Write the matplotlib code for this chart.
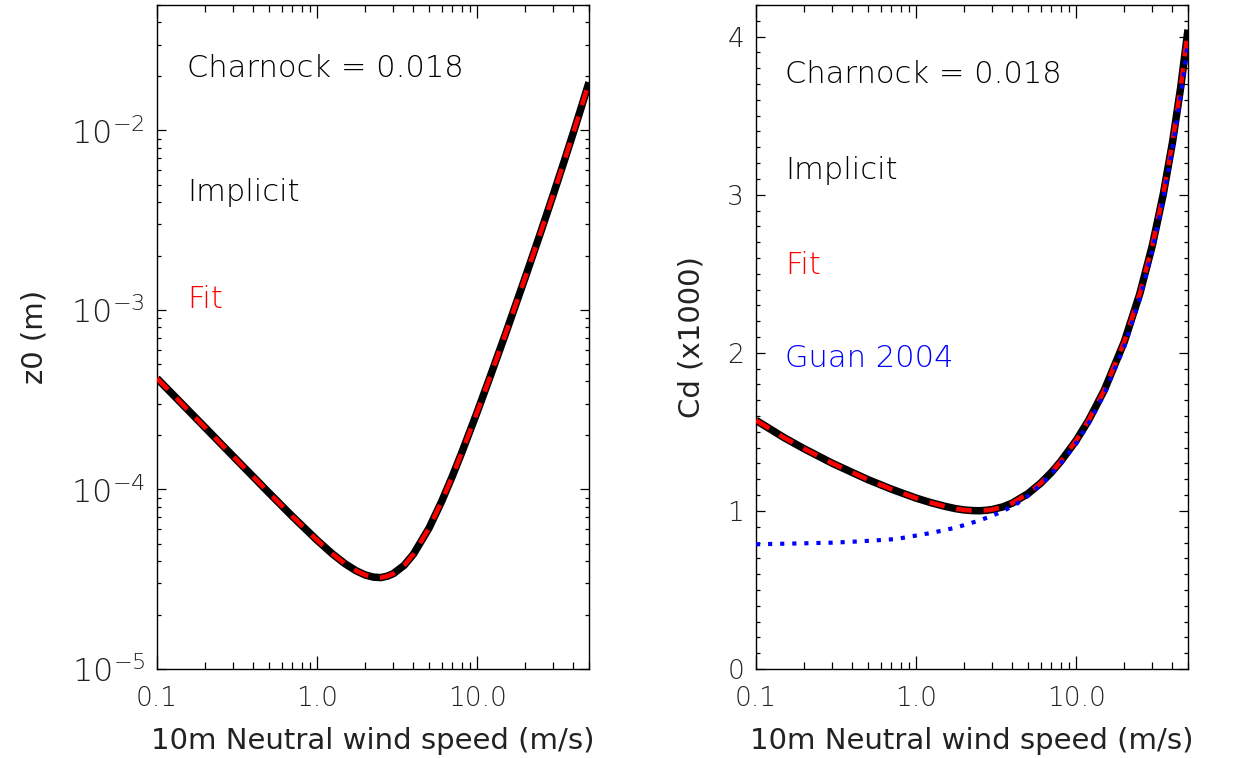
import matplotlib
matplotlib.use("Agg")
import matplotlib.pyplot as plt
from matplotlib.ticker import FixedLocator, FuncFormatter, NullFormatter, MultipleLocator, LogLocator

# ---------------- data ----------------
wind = [0.1, 0.15, 0.2, 0.3, 0.5, 0.7, 1.0, 1.25, 1.5, 1.75, 2.0, 2.25, 2.5, 2.75,
        3.0, 3.5, 4.0, 5.0, 6.0, 7.0, 8.0, 10.0, 12.0, 15.0, 20.0, 25.0, 30.0,
        35.0, 40.0, 45.0, 50.0]
z0_implicit = [4.16e-4, 2.876e-4, 2.212e-4, 1.527e-4, 9.59e-5, 7.09e-5, 5.22e-5,
               4.37e-5, 3.85e-5, 3.53e-5, 3.34e-5, 3.25e-5, 3.23e-5, 3.29e-5,
               3.40e-5, 3.78e-5, 4.36e-5, 6.08e-5, 8.57e-5, 1.185e-4, 1.597e-4,
               2.695e-4, 4.20e-4, 7.31e-4, 1.521e-3, 2.723e-3, 4.431e-3,
               6.746e-3, 9.78e-3, 1.367e-2, 1.855e-2]
z0_fit = [4.16e-4, 2.876e-4, 2.212e-4, 1.527e-4, 9.59e-5, 7.09e-5, 5.22e-5,
          4.37e-5, 3.85e-5, 3.53e-5, 3.34e-5, 3.25e-5, 3.23e-5, 3.29e-5,
          3.40e-5, 3.78e-5, 4.36e-5, 6.08e-5, 8.57e-5, 1.185e-4, 1.597e-4,
          2.695e-4, 4.20e-4, 7.31e-4, 1.521e-3, 2.723e-3, 4.431e-3,
          6.746e-3, 9.78e-3, 1.367e-2, 1.855e-2]
cd_implicit = [1.573, 1.463, 1.393, 1.301, 1.198, 1.138, 1.081, 1.051, 1.030,
               1.015, 1.006, 1.002, 1.001, 1.004, 1.009, 1.026, 1.050, 1.109,
               1.175, 1.243, 1.312, 1.445, 1.575, 1.764, 2.070, 2.374, 2.683,
               3.001, 3.331, 3.679, 4.044]
cd_fit = [1.573, 1.463, 1.393, 1.301, 1.198, 1.138, 1.081, 1.051, 1.030,
          1.015, 1.006, 1.002, 1.001, 1.004, 1.009, 1.026, 1.050, 1.109,
          1.175, 1.243, 1.312, 1.445, 1.575, 1.764, 2.070, 2.374, 2.683,
          3.001, 3.331, 3.679, 4.044]
wind_guan = [0.1, 0.2, 0.3, 0.4, 0.55, 0.75, 0.9, 1.25, 1.75, 2.5, 3.0, 3.5, 4.0,
             4.5, 5.25, 6.5, 8.0, 10.0, 12.0, 15.0, 20.0, 25.0, 30.0, 35.0,
             40.0, 45.0, 50.0]
cd_guan = [0.789, 0.795, 0.799, 0.805, 0.813, 0.822, 0.836, 0.861, 0.893, 0.940,
           0.970, 0.999, 1.030, 1.060, 1.112, 1.200, 1.300, 1.425, 1.555, 1.74,
           2.04, 2.34, 2.65, 2.97, 3.29, 3.62, 3.96]

x_ticks = [0.1, 1.0, 10.0]
x_ticklabels = ["0.1", "1.0", "10.0"]
z0_ticks = [1e-5, 1e-4, 1e-3, 1e-2]
z0_exponents = ["-5", "-4", "-3", "-2"]
cd_ticks = [0, 1, 2, 3, 4]
cd_ticklabels = ["0", "1", "2", "3", "4"]

xlabel = "10m Neutral wind speed (m/s)"
charnock_text = "Charnock = 0.018"

# ---------------- style ----------------
FONT = "DejaVu Sans"
plt.rcParams["font.family"] = [FONT]
plt.rcParams["font.weight"] = "light"
plt.rcParams["mathtext.default"] = "regular"
TXT = "#222222"

fig = plt.figure(figsize=(12.34, 7.58), dpi=100)
ax1 = fig.add_axes([157 / 1234, 89 / 758, 432 / 1234, 664 / 758])
ax2 = fig.add_axes([756 / 1234, 89 / 758, 432 / 1234, 664 / 758])

blk = dict(color="black", lw=5.4, solid_capstyle="butt", zorder=3)
red = dict(color="red", lw=3.3, dash_capstyle="butt", zorder=4)

# left: z0
ax1.plot(wind, z0_implicit, **blk)
l, = ax1.plot(wind, z0_fit, **red)
l.set_dashes([3.4, 2.6])
ax1.set_xscale("log")
ax1.set_yscale("log")
ax1.set_xlim(0.1, 50)
ax1.set_ylim(1e-5, 5e-2)

# right: Cd
ax2.plot(wind, cd_implicit, **blk)
l2, = ax2.plot(wind, cd_fit, **red)
l2.set_dashes([3.4, 2.6])
ax2.plot(wind_guan, cd_guan, color="blue", lw=3.0, linestyle=(0, (1.0, 1.9)),
         dash_capstyle="butt", zorder=5)
ax2.set_xscale("log")
ax2.set_xlim(0.1, 50)
ax2.set_ylim(0, 4.2)

xminor = [v * m for v in (0.1, 1.0, 10.0) for m in range(2, 10) if v * m <= 50]
for ax in (ax1, ax2):
    ax.xaxis.set_major_locator(FixedLocator(x_ticks))
    ax.xaxis.set_major_formatter(FuncFormatter(lambda v, p: x_ticklabels[x_ticks.index(v)] if v in x_ticks else ""))
    ax.xaxis.set_minor_locator(FixedLocator(xminor))
    ax.xaxis.set_minor_formatter(NullFormatter())
    ax.tick_params(axis="x", which="major", direction="in", length=9.4, width=0.9,
                   top=True, bottom=True, pad=12, labelsize=19, labelcolor=TXT)
    ax.tick_params(axis="x", which="minor", direction="in", length=4.7, width=0.9,
                   top=True, bottom=True)
    ax.tick_params(axis="y", which="major", direction="in", length=6.2, width=0.9,
                   left=True, right=True, pad=8.6, labelsize=19, labelcolor=TXT)
    ax.tick_params(axis="y", which="minor", direction="in", length=3.1, width=0.9,
                   left=True, right=True)
    for s in ax.spines.values():
        s.set_linewidth(1.0)
    ax.set_xlabel(xlabel, fontsize=21, color=TXT)
    ax.xaxis.set_label_coords(0.5, -0.088)
    ax.xaxis.label.set_va("top")

ax1.yaxis.set_major_locator(FixedLocator(z0_ticks))
ax1.yaxis.set_major_formatter(FuncFormatter(
    lambda v, p: r"$10^{%s}$" % z0_exponents[p] if p is not None and p < len(z0_exponents) else ""))
ax1.yaxis.set_minor_locator(LogLocator(base=10, subs=range(2, 10), numticks=20))
ax1.yaxis.set_minor_formatter(NullFormatter())
ax1.tick_params(axis="y", which="major", labelsize=23)
ax1.set_ylabel("z0 (m)", fontsize=21, color=TXT)
ax1.yaxis.set_label_coords(-0.25, 0.50)

ax2.yaxis.set_major_locator(FixedLocator(cd_ticks))
ax2.yaxis.set_major_formatter(FuncFormatter(lambda v, p: cd_ticklabels[int(round(v))]))
ax2.yaxis.set_minor_locator(MultipleLocator(0.1))
ax2.set_ylabel("Cd (x1000)", fontsize=21, color=TXT)
ax2.yaxis.set_label_coords(-0.118, 0.50)

# annotations
tk = dict(fontsize=22, ha="left", va="center")
ax1.text(0.069, 0.905, charnock_text, transform=ax1.transAxes, color="black", **tk)
ax1.text(0.069, 0.718, "Implicit", transform=ax1.transAxes, color="black", **tk)
ax1.text(0.069, 0.556, "Fit", transform=ax1.transAxes, color="red", **tk)

ax2.text(0.067, 0.895, charnock_text, transform=ax2.transAxes, color="black", **tk)
ax2.text(0.067, 0.751, "Implicit", transform=ax2.transAxes, color="black", **tk)
ax2.text(0.067, 0.608, "Fit", transform=ax2.transAxes, color="red", **tk)
ax2.text(0.067, 0.468, "Guan 2004", transform=ax2.transAxes, color="blue", **tk)

fig.savefig("out.png", dpi=100, facecolor="white")
